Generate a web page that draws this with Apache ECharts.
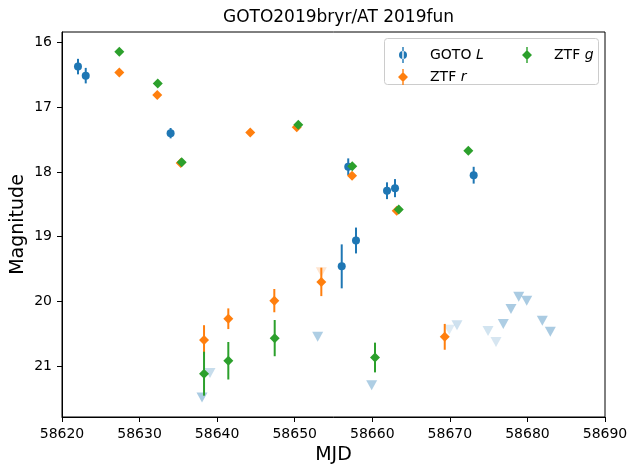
<!DOCTYPE html>
<html>
<head>
<meta charset="utf-8">
<script src="https://cdn.jsdelivr.net/npm/echarts@6/dist/echarts.min.js"></script>
<style>html,body{margin:0;padding:0;background:#fff}#c{width:629px;height:464px}</style>
</head>
<body>
<div id="c"></div>
<script>
// ---- data ----
const gotoMjd = [58622.06, 58623.06, 58634.0, 58656.06, 58656.9, 58657.9, 58661.9, 58662.93, 58673.07];
const gotoMag = [16.37, 16.51, 17.40, 19.46, 17.92, 19.06, 18.29, 18.25, 18.05];
const gotoErr = [0.12, 0.12, 0.08, 0.34, 0.13, 0.20, 0.13, 0.14, 0.13];

const ztfrMjd = [58627.39, 58632.28, 58635.3, 58638.31, 58641.44, 58644.27, 58647.37, 58650.26, 58653.43, 58657.39, 58663.15, 58669.34];
const ztfrMag = [16.46, 16.81, 17.86, 20.60, 20.27, 17.39, 19.99, 17.31, 19.70, 18.06, 18.60, 20.55];
const ztfrErr = [0.03, 0.03, 0.03, 0.23, 0.16, 0.03, 0.18, 0.03, 0.22, 0.03, 0.03, 0.20];

const ztfgMjd = [58627.39, 58632.34, 58635.43, 58638.31, 58641.44, 58647.42, 58650.46, 58657.42, 58660.35, 58663.41, 58672.38];
const ztfgMag = [16.14, 16.63, 17.85, 21.12, 20.92, 20.57, 17.27, 17.91, 20.87, 18.58, 17.67];
const ztfgErr = [0.03, 0.03, 0.03, 0.34, 0.29, 0.28, 0.03, 0.03, 0.23, 0.03, 0.03];

// upper limits
const gotoLimMjd = [58638.05, 58639.08, 58652.96, 58659.92, 58669.93, 58670.92, 58674.92, 58675.95, 58676.89, 58677.88, 58678.88, 58679.91, 58681.92, 58682.95];
const gotoLimMag = [21.49, 21.11, 20.55, 21.30, 20.44, 20.37, 20.46, 20.63, 20.35, 20.12, 19.93, 19.99, 20.30, 20.47];
const gotoLimAlpha = [0.38, 0.25, 0.36, 0.36, 0.15, 0.22, 0.2, 0.18, 0.36, 0.38, 0.38, 0.38, 0.38, 0.38];
const ztfrLimMjd = [58653.43];
const ztfrLimMag = [19.55];
const ztfrLimAlpha = [0.2];

const xTicks = [58620, 58630, 58640, 58650, 58660, 58670, 58680, 58690];
const yTicks = [16, 17, 18, 19, 20, 21];

// ---- chart ----
const BLUE = '#1f77b4', ORANGE = '#ff7f0e', GREEN = '#2ca02c';
const FONT = 'DejaVu Sans';

function pts(x, y, e) { return x.map((v, i) => e ? [v, y[i], e[i]] : [v, y[i]]); }
function errSeries(name, color, x, y, e) {
  return {
    name, type: 'custom', z: 3,
    data: pts(x, y, e),
    encode: { x: 0, y: 1 },
    renderItem: function (params, api) {
      const xv = api.value(0), yv = api.value(1), ev = api.value(2);
      const p1 = api.coord([xv, yv - ev]);
      const p2 = api.coord([xv, yv + ev]);
      return { type: 'line', shape: { x1: p1[0], y1: p1[1], x2: p2[0], y2: p2[1] },
               style: { stroke: color, lineWidth: 2 } };
    }
  };
}
function markerSeries(name, color, symbol, size, x, y) {
  return { name, type: 'scatter', z: 3, symbol, symbolSize: size,
           itemStyle: { color, opacity: 1 }, data: pts(x, y) };
}
function limSeries(name, color, x, y, a) {
  return { name: name, type: 'scatter', z: 2, symbol: 'triangle', symbolRotate: 180,
           symbolSize: [11, 10],
           data: x.map((v, i) => ({ value: [v, y[i]], itemStyle: { color: color, opacity: a[i] } })) };
}

const circIcon = 'path://M0,0M36,16M13.3,0H14.7V16H13.3ZM10,8A4,4 0 1,0 18,8A4,4 0 1,0 10,8Z';
const diaIcon = 'path://M0,0M36,16M13.3,0H14.7V16H13.3ZM14,3L19,8L14,13L9,8Z';
const legendFmt = n => n.replace(/ (\w)$/, ' {i|$1}');
const legendText = { fontFamily: FONT, fontSize: 14, color: '#000',
  rich: { i: { fontFamily: FONT, fontSize: 14, fontStyle: 'italic', color: '#000' } } };

const chart = echarts.init(document.getElementById('c'), null, { renderer: 'canvas' });
chart.setOption({
  animation: false,
  backgroundColor: '#fff',
  title: { text: 'GOTO2019bryr/AT 2019fun', left: 333.5, textAlign: 'center', top: 4,
           textStyle: { fontFamily: FONT, fontSize: 17, fontWeight: 'normal', color: '#000' } },
  grid: { left: 62, right: 24, top: 32, bottom: 47, show: true, borderColor: '#000', borderWidth: 1,
          outerBoundsMode: 'none', containLabel: false },
  xAxis: {
    type: 'value', min: xTicks[0], max: xTicks[xTicks.length - 1], interval: 10,
    name: 'MJD', nameLocation: 'middle', nameGap: 24,
    nameTextStyle: { fontFamily: FONT, fontSize: 19, color: '#000' },
    axisLine: { show: true, lineStyle: { color: '#000', width: 1 } },
    axisTick: { show: true, length: 5, lineStyle: { color: '#000' } },
    axisLabel: { margin: 10, fontFamily: FONT, fontSize: 14, color: '#000', formatter: v => String(v) },
    splitLine: { show: false }
  },
  yAxis: {
    type: 'value', inverse: true, min: 15.835, max: 21.79,
    name: 'Magnitude', nameLocation: 'middle', nameGap: 34, nameRotate: 90, nameMoveOverlap: false,
    nameTextStyle: { fontFamily: FONT, fontSize: 19, color: '#000' },
    axisLine: { show: true, lineStyle: { color: '#000', width: 1 } },
    axisTick: { show: true, length: 5, customValues: yTicks, lineStyle: { color: '#000' } },
    axisLabel: { margin: 10, fontFamily: FONT, fontSize: 14, color: '#000', customValues: yTicks,
                 formatter: v => String(v) },
    splitLine: { show: false }
  },
  legend: [
    { z: 10, left: 384, top: 42, orient: 'vertical', itemWidth: 36, itemHeight: 16, itemGap: 6,
      formatter: legendFmt, textStyle: legendText, selectedMode: false,
      data: [ { name: 'GOTO L', icon: circIcon, itemStyle: { color: BLUE } },
              { name: 'ZTF r', icon: diaIcon, itemStyle: { color: ORANGE } } ] },
    { z: 10, left: 508, top: 42, orient: 'vertical', itemWidth: 36, itemHeight: 16, itemGap: 6,
      formatter: legendFmt, textStyle: legendText, selectedMode: false,
      data: [ { name: 'ZTF g', icon: diaIcon, itemStyle: { color: GREEN } } ] }
  ],
  graphic: [
    { type: 'rect', z: 5, shape: { x: 384.5, y: 38.5, width: 214, height: 46, r: 3 },
      style: { fill: 'rgba(255,255,255,0.8)', stroke: '#cccccc', lineWidth: 1 } }
  ],
  series: [
    limSeries('GOTO L lim', BLUE, gotoLimMjd, gotoLimMag, gotoLimAlpha),
    limSeries('ZTF r lim', ORANGE, ztfrLimMjd, ztfrLimMag, ztfrLimAlpha),
    errSeries('GOTO L', BLUE, gotoMjd, gotoMag, gotoErr),
    markerSeries('GOTO L', BLUE, 'circle', 8, gotoMjd, gotoMag),
    errSeries('ZTF r', ORANGE, ztfrMjd, ztfrMag, ztfrErr),
    markerSeries('ZTF r', ORANGE, 'diamond', 10, ztfrMjd, ztfrMag),
    errSeries('ZTF g', GREEN, ztfgMjd, ztfgMag, ztfgErr),
    markerSeries('ZTF g', GREEN, 'diamond', 10, ztfgMjd, ztfgMag)
  ]
});
</script>
</body>
</html>
